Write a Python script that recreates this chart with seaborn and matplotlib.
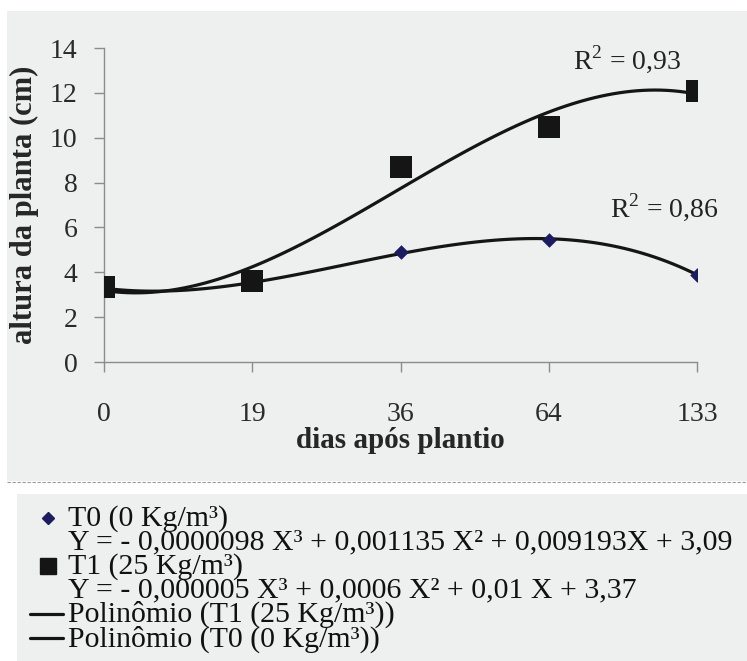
import numpy as np
import seaborn as sns
import matplotlib
matplotlib.use("Agg")
from matplotlib import pyplot as plt
from matplotlib.lines import Line2D
from matplotlib.patches import Rectangle

# data
days = ["0", "19", "36", "64", "133"]
t0_height = [3.3, 3.5, 4.9, 5.45, 3.9]
t1_height = [3.35, 3.6, 8.7, 10.5, 12.1]
r2_t0 = "0,86"
r2_t1 = "0,93"
eq_t0 = "Y = - 0,0000098 X³ + 0,001135 X² + 0,009193X + 3,09"
eq_t1 = "Y = - 0,000005 X³ + 0,0006 X² + 0,01 X + 3,37"
legend_labels = [
    "T0 (0 Kg/m³)",
    eq_t0,
    "T1 (25 Kg/m³)",
    eq_t1,
    "Polinômio (T1 (25 Kg/m³))",
    "Polinômio (T0 (0 Kg/m³))",
]

sns.set_style("white")
plt.rcParams["font.family"] = ["Liberation Serif", "DejaVu Serif"]
plt.rcParams["mathtext.fontset"] = "custom"
plt.rcParams["mathtext.rm"] = "Liberation Serif"

bg = "#edf0ef"
ink = "#151515"
navy = "#1c1c5e"

fig = plt.figure(figsize=(7.47, 6.61), dpi=100)
fig.patch.set_facecolor("white")
W, H = 747, 661
tf = fig.transFigure

# grey panels of the original chart area and legend box
fig.patches.append(Rectangle((7 / W, 1 - 481 / H), 740 / W, 470 / H,
                             transform=tf, facecolor=bg, edgecolor="none", zorder=-10))
fig.patches.append(Rectangle((17 / W, 0), 730 / W, 1 - 494 / H,
                             transform=tf, facecolor=bg, edgecolor="none", zorder=-10))
fig.lines.append(Line2D([7 / W, 1], [1 - 482 / H] * 2, transform=tf,
                        color="#9a9a9a", lw=0.8, ls=(0, (3, 1.5))))

ax = fig.add_axes([104 / W, 1 - 362 / H, 593 / W, 314 / H])
ax.set_facecolor("none")

pos = np.arange(len(days))

sns.regplot(x=pos, y=t1_height, order=3, ci=None, scatter=False, ax=ax,
            line_kws=dict(color=ink, lw=2.3, zorder=2))
sns.regplot(x=pos, y=t0_height, order=3, ci=None, scatter=False, ax=ax,
            line_kws=dict(color=ink, lw=2.3, zorder=2))
sns.scatterplot(x=pos, y=t0_height, marker="D", s=55, color=navy,
                edgecolor=navy, linewidth=0, ax=ax, zorder=3)
sns.scatterplot(x=pos, y=t1_height, marker="s", s=230, color=ink,
                edgecolor=ink, linewidth=0, ax=ax, zorder=4)

ax.set_xlim(0, len(days) - 1)
ax.set_ylim(0, 14)
ax.set_xticks(pos)
ax.set_xticklabels(days)
ax.set_yticks(np.arange(0, 15, 2))

for s in ["top", "right"]:
    ax.spines[s].set_visible(False)
for s in ["left", "bottom"]:
    ax.spines[s].set_color("#8c8c8c")
    ax.spines[s].set_linewidth(1)

ax.tick_params(axis="y", direction="out", length=7, width=1, color="#8c8c8c",
               labelsize=20, labelcolor="#2a2a2a", pad=12, left=True)
ax.tick_params(axis="x", direction="out", length=7, width=1, color="#8c8c8c",
               labelsize=20, labelcolor="#2a2a2a", pad=22, bottom=True)

ax.set_xlabel("dias após plantio", fontsize=21, fontweight="bold", labelpad=0)
ax.set_ylabel("altura da planta (cm)", fontsize=22, fontweight="bold")
ax.yaxis.set_label_coords(-0.11, 0.5)

ax.text(3.53, 13.5, "$\\mathrm{R}^{2}$ = " + r2_t1, fontsize=20, color="#222222",
        ha="center", va="center")
ax.text(3.78, 6.9, "$\\mathrm{R}^{2}$ = " + r2_t0, fontsize=20, color="#222222",
        ha="center", va="center")

# legend box: keys on the left, labels as one block of text
row_y = [1 - (518 + 24 * i) / H for i in range(len(legend_labels))]
fig.lines.append(Line2D([48 / W], [row_y[0]], transform=tf, marker="D", ms=6,
                        color=navy, ls="none"))
fig.lines.append(Line2D([48 / W], [row_y[2]], transform=tf, marker="s", ms=11,
                        color=ink, ls="none"))
fig.lines.append(Line2D([30 / W, 63 / W], [row_y[4]] * 2, transform=tf, color=ink, lw=2.3))
fig.lines.append(Line2D([30 / W, 63 / W], [row_y[5]] * 2, transform=tf, color=ink, lw=2.3))
fig.text(68 / W, 1 - 505 / H, "\n".join(legend_labels), fontsize=21.5,
         linespacing=0.88, color="#111111", ha="left", va="top")

fig.savefig("out.png", dpi=100)
